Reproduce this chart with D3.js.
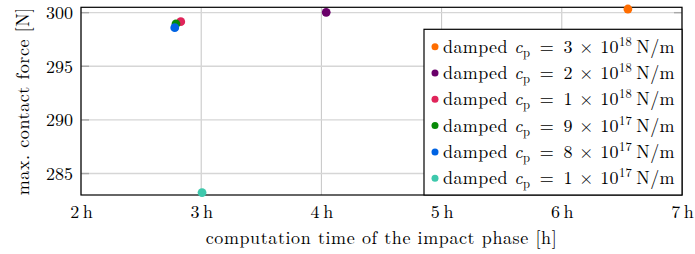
<!DOCTYPE html>
<html>
<head>
<meta charset="utf-8">
<script src="https://cdn.jsdelivr.net/npm/d3@7"></script>
<style>
  body { margin: 0; background: #fff; }
  svg { display: block; font-family: "Latin Modern Roman", "CMU Serif", "Liberation Serif", serif; }
</style>
</head>
<body>
<script>
// Data
const mantissas = [3, 2, 1, 9, 8, 1];
const exponents = [18, 18, 18, 17, 17, 17];
const times = [6.55, 4.04, 2.83, 2.79, 2.78, 3.007];        // h
const forces = [300.34, 300.03, 299.16, 298.95, 298.6, 283.23]; // N
const colors = ['#ff6d00', '#6a006a', '#e0245a', '#078a07', '#0063e3', '#3ec8ac'];
const xTicks = [2, 3, 4, 5, 6, 7];
const yTicks = [285, 290, 295, 300];

const w = 695;
const h = 254;
const plot = { left: 81, right: 682, top: 7.3, bottom: 195 };

const xScale = d3.scaleLinear().domain([2, 7]).range([plot.left, plot.right]);
const yScale = d3.scaleLinear().domain([283, 300.5]).range([plot.bottom, plot.top]);

const svg = d3.select('body')
  .append('svg')
  .attr('width', w)
  .attr('height', h);

// Grid
svg.append('g')
  .selectAll('line')
  .data(xTicks)
  .join('line')
  .attr('x1', d => xScale(d))
  .attr('x2', d => xScale(d))
  .attr('y1', plot.top)
  .attr('y2', plot.bottom)
  .attr('stroke', '#bdbdbd')
  .attr('stroke-width', 0.9);

svg.append('g')
  .selectAll('line')
  .data(yTicks)
  .join('line')
  .attr('x1', plot.left)
  .attr('x2', plot.right)
  .attr('y1', d => yScale(d))
  .attr('y2', d => yScale(d))
  .attr('stroke', '#d6d6d6')
  .attr('stroke-width', 1.4);

// Inward ticks, left and right
const tickLen = 8;
svg.append('g')
  .selectAll('line')
  .data(yTicks.flatMap(d => [[plot.left, plot.left + tickLen, d], [plot.right - tickLen, plot.right, d]]))
  .join('line')
  .attr('x1', d => d[0])
  .attr('x2', d => d[1])
  .attr('y1', d => yScale(d[2]))
  .attr('y2', d => yScale(d[2]))
  .attr('stroke', '#a8a8a8')
  .attr('stroke-width', 1.4);

// Axis box
svg.append('rect')
  .attr('x', plot.left)
  .attr('y', plot.top)
  .attr('width', plot.right - plot.left)
  .attr('height', plot.bottom - plot.top)
  .attr('fill', 'none')
  .attr('stroke', '#000')
  .attr('stroke-width', 1.2);

// Tick labels
const xAxis = d3.axisBottom(xScale)
  .tickValues(xTicks)
  .tickSize(0)
  .tickPadding(10)
  .tickFormat(d => `${d}\u2009h`);

svg.append('g')
  .attr('transform', `translate(0, ${plot.bottom})`)
  .call(xAxis)
  .attr('font-family', null)
  .attr('font-size', 18)
  .call(g => g.select('.domain').remove())
  .selectAll('text')
  .attr('fill', '#000');

const yAxis = d3.axisLeft(yScale)
  .tickValues(yTicks)
  .tickSize(0)
  .tickPadding(8)
  .tickFormat(d3.format('d'));

svg.append('g')
  .attr('transform', `translate(${plot.left}, 0)`)
  .call(yAxis)
  .attr('font-family', null)
  .attr('font-size', 18)
  .call(g => g.select('.domain').remove())
  .selectAll('text')
  .attr('fill', '#000');

// Points
svg.append('g')
  .selectAll('circle')
  .data(times.map((t, i) => ({ t, f: forces[i], c: colors[i] })))
  .join('circle')
  .attr('cx', d => xScale(d.t))
  .attr('cy', d => yScale(d.f))
  .attr('r', 4.4)
  .attr('fill', d => d.c);

// Axis titles
svg.append('text')
  .attr('x', (plot.left + plot.right) / 2)
  .attr('y', 244)
  .attr('text-anchor', 'middle')
  .attr('font-size', 18)
  .attr('letter-spacing', 0.6)
  .text('computation time of the impact phase [h]');

svg.append('text')
  .attr('transform', `translate(29, ${(plot.top + plot.bottom) / 2}) rotate(-90)`)
  .attr('text-anchor', 'middle')
  .attr('font-size', 18)
  .attr('letter-spacing', 0.6)
  .text('max. contact force [N]');

// Legend
const legend = { x: 424, y: 29.3, w: 258, h: 165.7, row: 26.3 };
svg.append('rect')
  .attr('x', legend.x)
  .attr('y', legend.y)
  .attr('width', legend.w)
  .attr('height', legend.h)
  .attr('fill', '#fff')
  .attr('stroke', '#000')
  .attr('stroke-width', 1.2);

const rows = svg.append('g')
  .selectAll('g')
  .data(mantissas.map((m, i) => ({ m, e: exponents[i], c: colors[i] })))
  .join('g')
  .attr('transform', (d, i) => `translate(${legend.x}, ${legend.y + 17.4 + i * legend.row})`);

rows.append('circle')
  .attr('cx', 11)
  .attr('cy', 0)
  .attr('r', 3.5)
  .attr('fill', d => d.c);

const label = rows.append('text')
  .attr('x', 19)
  .attr('y', 6)
  .attr('font-size', 18)
  .attr('letter-spacing', 0.4);

label.append('tspan').text('damped ');
label.append('tspan').attr('font-style', 'italic').text('c');
label.append('tspan').attr('font-size', 12.5).attr('dy', 4).text('p');
label.append('tspan').attr('dy', -4).text(d => `\u2002=\u2002${d.m} \u00d7 10`);
label.append('tspan').attr('font-size', 12.5).attr('dy', -7).text(d => d.e);
label.append('tspan').attr('dy', 7).text('\u2009N/m');
</script>
</body>
</html>
